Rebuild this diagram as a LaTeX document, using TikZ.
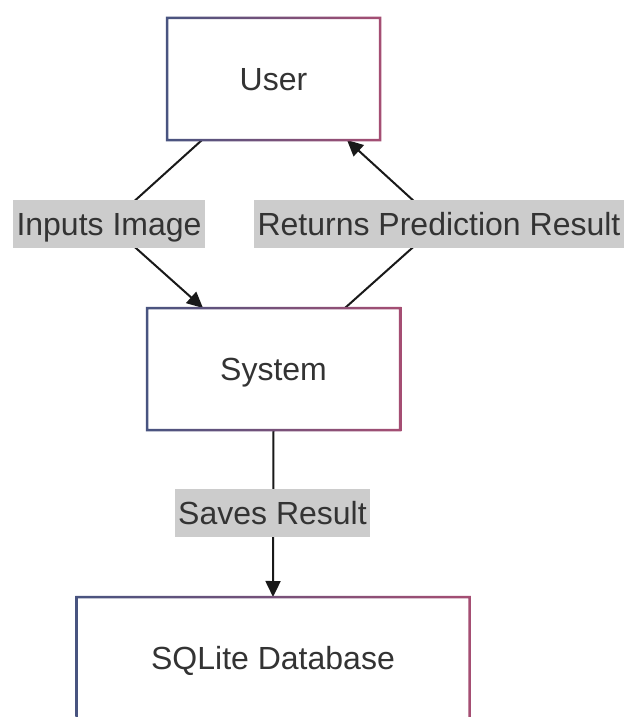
\documentclass[tikz,border=0pt]{standalone}
\usepackage{fontspec}
\setmainfont{Liberation Sans}
\usetikzlibrary{arrows.meta,calc}
\pgfdeclarelayer{back}
\pgfdeclarelayer{bg}
\pgfsetlayers{back,bg,main}
\definecolor{bl}{RGB}{72,84,128}
\definecolor{rd}{RGB}{165,78,115}
\definecolor{txt}{RGB}{51,51,51}
\definecolor{lbl}{RGB}{204,204,204}
\definecolor{ln}{RGB}{25,25,25}
\begin{document}
\begin{tikzpicture}[x=1pt,y=-1pt,
  box/.style={draw=none, fill=white, text=txt, font=\fontsize{32}{38}\selectfont,
    inner sep=0pt, outer sep=0pt, text height=29pt, text depth=7pt},
  lab/.style={fill=lbl, text=txt, font=\fontsize{32}{38}\selectfont,
    inner xsep=3.5pt, inner ysep=0pt, outer sep=0pt, minimum height=48pt,
    text height=29pt, text depth=7pt},
  edge/.style={draw=ln, line width=2pt, -{Triangle[length=16pt,width=15pt]}}]
\begin{pgfonlayer}{back}
\fill[white] (0,0) rectangle (629,717);
\end{pgfonlayer}
\useasboundingbox (0,0) rectangle (629,717);
\clip (0,0) rectangle (629,717);

\node[box, minimum width=213pt, minimum height=122pt] (user) at (273.5,79) {User};
\node[box, minimum width=253pt, minimum height=122pt] (sys) at (273.5,369) {System};
\node[box, minimum width=393pt, minimum height=122pt] (db) at (273,658) {SQLite Database};

\foreach \n in {user,sys,db}
  \shade[left color=bl, right color=rd, even odd rule]
    ([xshift=-1.25pt,yshift=1.25pt]\n.north west) rectangle ([xshift=1.25pt,yshift=-1.25pt]\n.south east)
    ([xshift=1.25pt,yshift=-1.25pt]\n.north west) rectangle ([xshift=-1.25pt,yshift=1.25pt]\n.south east);

\node[lab] (lab1) at (109,224) {Inputs Image};
\node[lab] (lab2) at (439,224) {Returns Prediction Result};
\node[lab] (lab3) at (272.5,513) {Saves Result};

\begin{pgfonlayer}{bg}
\draw[edge] ($(user.south west)+(35,0)$) -- (lab1.center) -- ($(sys.north west)+(56,0)$);
\draw[edge] ($(sys.north west)+(198,0)$) -- (lab2.center) -- ($(user.south west)+(180,0)$);
\draw[edge] (sys.south) -- (db.north);
\end{pgfonlayer}
\end{tikzpicture}
\end{document}
